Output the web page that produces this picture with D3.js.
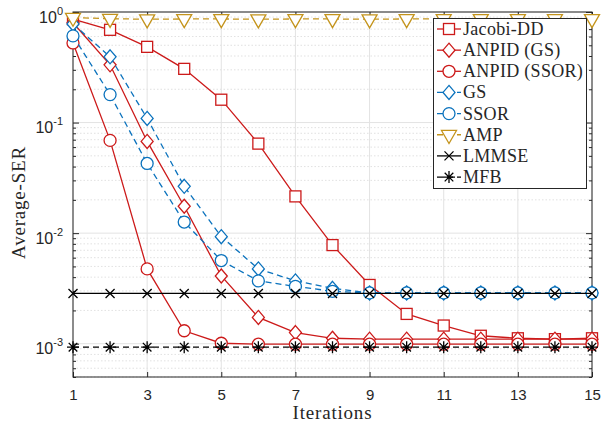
<!DOCTYPE html>
<html><head><meta charset="utf-8">
<script src="https://cdn.jsdelivr.net/npm/d3@7"></script>
<style>body{margin:0;background:#fff}svg{display:block}</style>
</head><body>
<svg id="c" width="615" height="430"></svg>
<script>
const iterations = [1,2,3,4,5,6,7,8,9,10,11,12,13,14,15];
const xTicks = [1,3,5,7,9,11,13,15];
const yTicks = [1e-3,1e-2,1e-1,1];
const yTickExp = ["-3","-2","-1","0"];
const jacobiDD  = [0.86,0.69,0.484,0.306,0.161,0.0645,0.0215,0.0078,0.0034,0.00186,0.00146,0.00118,0.00112,0.0011,0.00112];
const anpidGS   = [0.80,0.333,0.0675,0.0175,0.0041,0.00173,0.00126,0.00112,0.0011,0.0011,0.0011,0.0011,0.0011,0.0011,0.0011];
const anpidSSOR = [0.525,0.069,0.00475,0.00131,0.00101,0.00099,0.00099,0.00099,0.00099,0.00099,0.00099,0.00099,0.00099,0.00099,0.00099];
const gsVals    = [0.78,0.393,0.109,0.0265,0.0093,0.00475,0.0037,0.00317,0.00288,0.00288,0.00288,0.00288,0.00288,0.00288,0.00288];
const ssorVals  = [0.608,0.179,0.0427,0.0126,0.00565,0.0037,0.0033,0.00298,0.00288,0.00288,0.00288,0.00288,0.00288,0.00288,0.00288];
const ampVals   = [0.89,0.87,0.86,0.865,0.865,0.86,0.865,0.865,0.86,0.865,0.865,0.865,0.865,0.865,0.865];
const lmmseVals = [0.00285,0.00285,0.00285,0.00285,0.00285,0.00285,0.00285,0.00285,0.00285,0.00285,0.00285,0.00285,0.00285,0.00285,0.00285];
const mfbVals   = [0.00093,0.00093,0.00093,0.00093,0.00093,0.00093,0.00093,0.00093,0.00093,0.00093,0.00093,0.00093,0.00093,0.00093,0.00093];
const seriesNames = ["Jacobi-DD","ANPID (GS)","ANPID (SSOR)","GS","SSOR","AMP","LMMSE","MFB"];

const RED="#cc1a1a", BLUE="#0a72bd", GOLD="#c4941c", BLACK="#000";
const series = [
  {name:seriesNames[0], vals:jacobiDD, color:RED, dash:null, marker:"square"},
  {name:seriesNames[1], vals:anpidGS, color:RED, dash:null, marker:"diamond"},
  {name:seriesNames[2], vals:anpidSSOR, color:RED, dash:null, marker:"circle"},
  {name:seriesNames[3], vals:gsVals, color:BLUE, dash:"6,4", marker:"diamond"},
  {name:seriesNames[4], vals:ssorVals, color:BLUE, dash:"6,4", marker:"circle"},
  {name:seriesNames[5], vals:ampVals, color:GOLD, dash:"6,4", marker:"tri"},
  {name:seriesNames[6], vals:lmmseVals, color:BLACK, dash:null, marker:"cross"},
  {name:seriesNames[7], vals:mfbVals, color:BLACK, dash:"6,4", marker:"star"}
];

const L=73, R=592, T=12, B=377;
const x = d3.scaleLinear().domain([1,15]).range([L,R]);
const y = d3.scaleLog().domain([5e-4,1]).range([B,T]);
const svg = d3.select("#c");
const AX="#262626";

// grid
const minorY = [];
[1e-4,1e-3,1e-2,1e-1].forEach(d=>{for(let k=2;k<=9;k++){const v=d*k; if(v>=5e-4 && v<1) minorY.push(v);}});
svg.append("g").selectAll("line").data(minorY).join("line")
  .attr("x1",L).attr("x2",R).attr("y1",d=>y(d)).attr("y2",d=>y(d))
  .attr("stroke","#d9d9d9").attr("stroke-width",0.8).attr("stroke-dasharray","1.5,2");
svg.append("g").selectAll("line").data(yTicks).join("line")
  .attr("x1",L).attr("x2",R).attr("y1",d=>y(d)).attr("y2",d=>y(d))
  .attr("stroke","#e3e3e3").attr("stroke-width",1);
svg.append("g").selectAll("line").data(xTicks).join("line")
  .attr("x1",d=>x(d)).attr("x2",d=>x(d)).attr("y1",T).attr("y2",B)
  .attr("stroke","#e3e3e3").attr("stroke-width",1);

// axes
const fontTick = "'Liberation Sans', Arial, sans-serif";
const xAxis = svg.append("g").attr("transform",`translate(0,${B})`)
  .call(d3.axisBottom(x).tickValues(xTicks).tickSize(-5).tickPadding(12).tickFormat(d3.format("d")));
xAxis.select(".domain").remove();
xAxis.selectAll("line").attr("stroke",AX);
xAxis.selectAll("text").attr("font-family",fontTick).attr("font-size",15).attr("fill",AX);
const xTop = svg.append("g").attr("transform",`translate(0,${T})`)
  .call(d3.axisTop(x).tickValues(xTicks).tickSize(-5).tickFormat(""));
xTop.select(".domain").remove(); xTop.selectAll("line").attr("stroke",AX);

const yAxis = svg.append("g").attr("transform",`translate(${L},0)`)
  .call(d3.axisLeft(y).tickValues(yTicks).tickSize(-6).tickPadding(6).tickFormat(""));
yAxis.select(".domain").remove(); yAxis.selectAll("line").attr("stroke",AX);
yAxis.selectAll(".tick").each(function(d,i){
  const g=d3.select(this);
  const t=g.append("text").attr("x",-10).attr("y",10).attr("text-anchor","end")
    .attr("font-family",fontTick).attr("fill",AX);
  t.append("tspan").attr("font-size",16).text("10");
  t.append("tspan").attr("font-size",11).attr("dy",-8).text(yTickExp[yTicks.indexOf(d)]);
});
const yMinL = svg.append("g").attr("transform",`translate(${L},0)`)
  .call(d3.axisLeft(y).tickValues(minorY).tickSize(-3).tickFormat(""));
yMinL.select(".domain").remove(); yMinL.selectAll("line").attr("stroke",AX);
const yR = svg.append("g").attr("transform",`translate(${R},0)`)
  .call(d3.axisRight(y).tickValues(yTicks).tickSize(-6).tickFormat(""));
yR.select(".domain").remove(); yR.selectAll("line").attr("stroke",AX);
const yMinR = svg.append("g").attr("transform",`translate(${R},0)`)
  .call(d3.axisRight(y).tickValues(minorY).tickSize(-3).tickFormat(""));
yMinR.select(".domain").remove(); yMinR.selectAll("line").attr("stroke",AX);

svg.append("rect").attr("x",L).attr("y",T).attr("width",R-L).attr("height",B-T)
  .attr("fill","none").attr("stroke",AX).attr("stroke-width",1);

// labels
const fontSerif = "'Liberation Serif','DejaVu Serif',serif";
svg.append("text").attr("x",(L+R)/2).attr("y",419).attr("text-anchor","middle")
  .attr("font-family",fontSerif).attr("font-size",19).attr("letter-spacing",0.8).attr("fill",AX).text("Iterations");
svg.append("text").attr("transform",`translate(25,${(T+B)/2+8}) rotate(-90)`).attr("text-anchor","middle")
  .attr("font-family",fontSerif).attr("font-size",19).attr("letter-spacing",0.8).attr("fill",AX).text("Average-SER");

// marker drawing
function drawMarker(g, type, color, cx, cy){
  const sw=1.3;
  if(type==="square") g.append("rect").attr("x",cx-5.5).attr("y",cy-5.5).attr("width",11).attr("height",11)
      .attr("fill","#fff").attr("stroke",color).attr("stroke-width",sw);
  else if(type==="circle") g.append("circle").attr("cx",cx).attr("cy",cy).attr("r",6)
      .attr("fill","#fff").attr("stroke",color).attr("stroke-width",sw);
  else if(type==="diamond") g.append("path").attr("d",`M${cx},${cy-7}L${cx+6},${cy}L${cx},${cy+7}L${cx-6},${cy}Z`)
      .attr("fill","#fff").attr("stroke",color).attr("stroke-width",sw);
  else if(type==="tri") g.append("path").attr("d",`M${cx-7.5},${cy-4.3}L${cx+7.5},${cy-4.3}L${cx},${cy+8.7}Z`)
      .attr("fill","#fff").attr("stroke",color).attr("stroke-width",sw).attr("stroke-linejoin","miter");
  else if(type==="cross") g.append("path").attr("d",`M${cx-4.5},${cy-4.5}L${cx+4.5},${cy+4.5}M${cx-4.5},${cy+4.5}L${cx+4.5},${cy-4.5}`)
      .attr("stroke",color).attr("stroke-width",sw).attr("fill","none");
  else if(type==="star") g.append("path").attr("d",`M${cx-4.3},${cy-4.3}L${cx+4.3},${cy+4.3}M${cx-4.3},${cy+4.3}L${cx+4.3},${cy-4.3}M${cx-6},${cy}L${cx+6},${cy}M${cx},${cy-6}L${cx},${cy+6}`)
      .attr("stroke",color).attr("stroke-width",sw).attr("fill","none");
}

const line = d3.line().x((d,i)=>x(iterations[i])).y(d=>y(d));
series.forEach(s=>{
  const g=svg.append("g");
  g.append("path").attr("d",line(s.vals)).attr("fill","none").attr("stroke",s.color)
    .attr("stroke-width",1.3).attr("stroke-dasharray",s.dash);
  s.vals.forEach((v,i)=>drawMarker(g,s.marker,s.color,x(iterations[i]),y(v)));
});

// legend
const lg = svg.append("g");
lg.append("rect").attr("x",433.5).attr("y",18.5).attr("width",153).attr("height",170)
  .attr("fill","#fff").attr("stroke",AX).attr("stroke-width",1);
series.forEach((s,i)=>{
  const cy = 29 + i*21.15;
  lg.append("line").attr("x1",437).attr("x2",461).attr("y1",cy).attr("y2",cy)
    .attr("stroke",s.color).attr("stroke-width",1.3).attr("stroke-dasharray",s.dash);
  drawMarker(lg,s.marker,s.color,449,cy);
  lg.append("text").attr("x",463).attr("y",cy+6).attr("font-family",fontSerif).attr("font-size",18)
    .attr("letter-spacing",0.3).attr("fill",AX).text(s.name);
});
</script>
</body></html>
